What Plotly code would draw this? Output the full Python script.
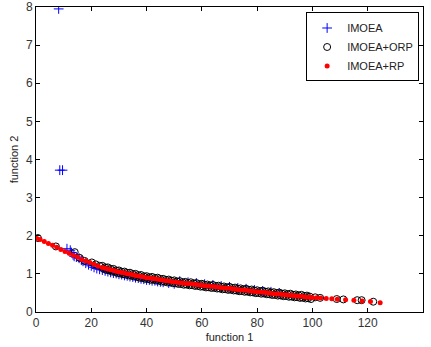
import plotly.graph_objects as go

# ---- data ----
imoea_x = [8.2, 8.6, 9.6, 11.2, 12.4, 12.8, 13.4, 13.8, 14.6, 15.6, 16.4, 17.0, 18.0, 19.0, 20.0,
           21.0, 22.0, 23.0, 24.0, 25.0, 26.0, 27.0, 28.0, 29.0, 30.0, 31.0, 32.0, 33.0, 34.0,
           35.0, 36.0, 37.0, 38.0, 39.0, 40.0, 41.0, 42.0, 43.0, 44.0, 45.0, 46.0, 48.0, 50.0,
           52.0, 55.0, 58.0, 61.0, 64.0, 67.0, 70.0, 73.0, 76.0, 79.0, 82.0, 85.0, 88.0]
imoea_y = [7.95, 3.72, 3.72, 1.66, 1.62, 1.56, 1.50, 1.46, 1.44, 1.41, 1.36, 1.33, 1.28, 1.24, 1.21,
           1.17, 1.14, 1.12, 1.10, 1.08, 1.06, 1.04, 1.02, 1.01, 0.99, 0.98, 0.96, 0.95, 0.93,
           0.92, 0.90, 0.89, 0.87, 0.86, 0.84, 0.84, 0.82, 0.82, 0.80, 0.79, 0.78, 0.76, 0.74,
           0.81, 0.78, 0.76, 0.73, 0.71, 0.68, 0.66, 0.63, 0.61, 0.58, 0.55, 0.53, 0.50]

orp_x = [0.7, 7.2, 14.0, 15.8, 17.6, 20.2, 21.6, 23.0,
         24.0, 24.5, 25.0, 25.5, 26.0, 26.5, 27.0, 27.5, 28.0, 28.5, 29.0, 29.5,
         30.0, 30.5, 31.0, 31.5, 32.0, 32.5, 33.0, 33.5, 34.0, 34.5, 35.0, 35.5, 36.0, 36.5,
         37.0, 37.5, 38.0, 38.5, 39.0, 39.5, 40.0, 40.5, 41.0, 41.5, 42.0, 42.5, 43.0, 43.5,
         44.0, 44.5, 45.0, 45.5, 46.0, 46.5, 47.0, 47.5, 48.0, 48.5, 49.0, 49.5, 50.0, 50.5,
         51.0, 51.5, 52.0, 52.5, 53.0, 53.5, 54.0, 54.5, 55.0, 55.5, 56.0, 56.5, 57.0, 57.5,
         58.0, 58.5, 59.0, 59.5, 60.0, 60.5, 61.0, 61.5, 62.0, 62.5, 63.0, 63.5, 64.0, 64.5,
         65.0, 65.5, 66.0, 66.5, 67.0, 67.5, 68.0, 68.5, 69.0, 69.5, 70.0, 70.5, 71.0, 71.5,
         72.0, 72.5, 73.0, 73.5, 74.0, 74.5, 75.0, 75.5, 76.0, 76.5, 77.0, 77.5, 78.0, 78.5,
         79.0, 79.5, 80.0, 80.5, 81.0, 81.5, 82.0, 82.5, 83.0, 83.5, 84.0, 84.5, 85.0, 85.5,
         86.0, 86.5, 87.0, 87.5, 88.0, 88.5, 89.0, 89.5, 90.0, 90.5, 91.0, 91.5, 92.0, 92.5,
         93.0, 93.5, 94.0, 94.5, 95.0, 95.5, 96.0, 96.5, 97.0, 97.5, 98.0, 98.5, 99.0, 99.5,
         101.0, 102.8, 108.8, 111.2, 116.2, 117.8, 122.0]
orp_y = [1.94, 1.72, 1.57, 1.42, 1.34, 1.30, 1.25, 1.21,
         1.21, 1.13, 1.17, 1.10, 1.17, 1.09, 1.13, 1.06, 1.13, 1.05, 1.09, 1.02,
         1.09, 1.01, 1.055, 0.99, 1.06, 0.98, 1.025, 0.96, 1.03, 0.95, 0.995, 0.93, 1.00, 0.92,
         0.965, 0.90, 0.97, 0.89, 0.935, 0.87, 0.94, 0.865, 0.91, 0.845, 0.92, 0.845, 0.89, 0.825,
         0.90, 0.82, 0.865, 0.80, 0.87, 0.795, 0.84, 0.775, 0.85, 0.775, 0.82, 0.755, 0.83, 0.755,
         0.80, 0.735, 0.81, 0.735, 0.78, 0.715, 0.79, 0.72, 0.765, 0.70, 0.78, 0.705, 0.75, 0.685,
         0.76, 0.685, 0.73, 0.665, 0.74, 0.665, 0.71, 0.645, 0.72, 0.65, 0.695, 0.63, 0.71, 0.635,
         0.68, 0.615, 0.69, 0.615, 0.66, 0.595, 0.67, 0.60, 0.645, 0.58, 0.66, 0.585, 0.63, 0.565,
         0.64, 0.565, 0.61, 0.545, 0.62, 0.55, 0.595, 0.53, 0.61, 0.535, 0.58, 0.515, 0.59, 0.515,
         0.56, 0.495, 0.57, 0.50, 0.545, 0.48, 0.56, 0.485, 0.53, 0.465, 0.54, 0.465, 0.51, 0.445,
         0.52, 0.45, 0.495, 0.43, 0.51, 0.435, 0.48, 0.415, 0.49, 0.42, 0.465, 0.40, 0.48, 0.405,
         0.45, 0.385, 0.46, 0.39, 0.435, 0.37, 0.45, 0.375, 0.42, 0.355, 0.43, 0.36, 0.405, 0.34,
         0.385, 0.37, 0.34, 0.33, 0.31, 0.31, 0.27]

rp_x = [0.3, 1.5, 3.0, 4.5, 6.0, 7.5, 9.0, 10.5, 12.0, 13.5, 15.0, 16.5, 18.0, 19.5, 21.0, 22.5,
        24, 25, 26, 27, 28, 29, 30, 31, 32, 33, 34, 35, 36, 37, 38, 39, 40, 41, 42, 43, 44, 45,
        46, 47, 48, 49, 50, 51, 52, 53, 54, 55, 56, 57, 58, 59, 60, 61, 62, 63, 64, 65, 66, 67,
        68, 69, 70, 71, 72, 73, 74, 75, 76, 77, 78, 79, 80, 81, 82, 83, 84, 85, 86, 87, 88, 89,
        90, 91, 92, 93, 94, 95, 96, 97, 98, 99, 100,
        101.5, 103, 105, 107, 109, 112, 115, 118, 121, 124.5]
rp_y = [1.93, 1.90, 1.85, 1.80, 1.75, 1.70, 1.64, 1.59, 1.54, 1.49, 1.44, 1.38, 1.34, 1.30, 1.25, 1.20,
        1.17, 1.15, 1.13, 1.11, 1.09, 1.07, 1.05, 1.035, 1.02, 1.005, 0.99, 0.975, 0.96, 0.945,
        0.93, 0.915, 0.90, 0.89, 0.88, 0.87, 0.86, 0.845, 0.83, 0.82, 0.81, 0.80, 0.79, 0.78,
        0.77, 0.76, 0.75, 0.745, 0.74, 0.73, 0.72, 0.71, 0.70, 0.69, 0.68, 0.675, 0.67, 0.66,
        0.65, 0.64, 0.63, 0.625, 0.62, 0.61, 0.60, 0.59, 0.58, 0.575, 0.57, 0.56, 0.55, 0.54,
        0.53, 0.525, 0.52, 0.51, 0.50, 0.49, 0.48, 0.475, 0.47, 0.46, 0.45, 0.445, 0.44, 0.43,
        0.42, 0.415, 0.41, 0.40, 0.39, 0.385, 0.38,
        0.375, 0.365, 0.355, 0.345, 0.335, 0.32, 0.305, 0.29, 0.275, 0.245]

x_ticks = [0, 20, 40, 60, 80, 100, 120, 140]
y_ticks = [0, 1, 2, 3, 4, 5, 6, 7, 8]

FONT = "Arial, Liberation Sans, Helvetica, sans-serif"

fig = go.Figure()
fig.add_trace(go.Scatter(x=imoea_x, y=imoea_y, mode="markers", name="IMOEA",
                         marker=dict(symbol="cross-thin", size=7, color="#0000ff",
                                     line=dict(width=1, color="#0000ff"))))
fig.add_trace(go.Scatter(x=orp_x, y=orp_y, mode="markers", name="IMOEA+ORP",
                         marker=dict(symbol="circle-open", size=7, color="#000000",
                                     line=dict(width=1, color="#000000"))))
fig.add_trace(go.Scatter(x=rp_x, y=rp_y, mode="markers", name="IMOEA+RP",
                         marker=dict(symbol="circle", size=5, color="#ff0000",
                                     line=dict(width=0))))

axis_common = dict(showline=True, linecolor="black", linewidth=1, mirror="ticks",
                   ticks="inside", ticklen=4, tickcolor="black", showgrid=False,
                   zeroline=False, automargin=False,
                   tickfont=dict(family=FONT, size=12, color="#333333"),
                   title_font=dict(family=FONT, size=11, color="#222222"))

fig.update_xaxes(range=[0, 140], tickvals=x_ticks, title_text="function 1",
                 title_standoff=3, **axis_common)
fig.update_yaxes(range=[0, 8], tickvals=y_ticks, title_text="function 2",
                 title_standoff=5, **axis_common)

fig.update_layout(
    width=431, height=347,
    margin=dict(l=36, r=8, t=7, b=35),
    paper_bgcolor="white", plot_bgcolor="white",
    showlegend=True,
    legend=dict(x=0.99, y=0.982, xanchor="right", yanchor="top",
                bgcolor="white", bordercolor="black", borderwidth=1,
                font=dict(family=FONT, size=11, color="#222222"),
                itemwidth=30, tracegroupgap=0),
)

fig.write_html("out.html",
               config={"displayModeBar": False},
               post_script="document.body.style.margin='0';document.body.style.padding='0';")
